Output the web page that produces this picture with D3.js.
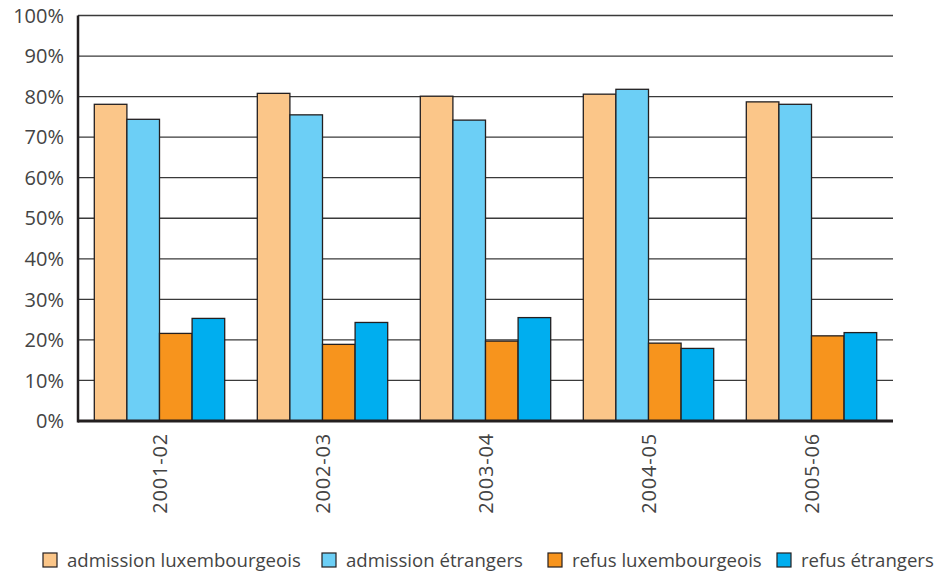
<!DOCTYPE html>
<html><head><meta charset="utf-8">
<script src="https://cdn.jsdelivr.net/npm/d3@7"></script>
<style>body{margin:0;background:#fff;} text{font-family:"Open Sans",Lato,sans-serif;font-weight:400;}</style>
</head><body>
<svg id="c" width="938" height="573"></svg>
<script>
const categories = ["2001-02","2002-03","2003-04","2004-05","2005-06"];
const seriesNames = ["admission luxembourgeois","admission étrangers","refus luxembourgeois","refus étrangers"];
const admissionLux = [78.1, 80.8, 80.1, 80.6, 78.7];
const admissionEtr = [74.4, 75.5, 74.2, 81.8, 78.1];
const refusLux = [21.6, 18.9, 19.7, 19.2, 21.0];
const refusEtr = [25.3, 24.3, 25.5, 17.9, 21.8];
const yTicks = [0,10,20,30,40,50,60,70,80,90,100];
const colors = ["#FBC689","#6CCFF6","#F7941D","#00AEEF"];

const series = [admissionLux, admissionEtr, refusLux, refusEtr];
const svg = d3.select("#c");
const m = {l:78, r:45, t:15.5, b:152};
const W = 938 - m.l - m.r, H = 573 - m.t - m.b;
const g = svg.append("g").attr("transform",`translate(${m.l},${m.t})`);

const x = d3.scaleBand().domain(categories).range([0,W]).paddingInner(0.2).paddingOuter(0.1);
const x1 = d3.scaleBand().domain(d3.range(series.length)).range([0,x.bandwidth()]);
const y = d3.scaleLinear().domain([0,100]).range([H,0]);

// gridlines
g.append("g").selectAll("line").data(yTicks.filter(d=>d>0)).join("line")
  .attr("x1",0).attr("x2",W).attr("y1",d=>y(d)).attr("y2",d=>y(d))
  .attr("stroke","#3a3a3a").attr("stroke-width",1.3);

// y labels
g.append("g").selectAll("text").data(yTicks).join("text")
  .attr("x",-14).attr("y",d=>y(d)).attr("dy","0.36em").attr("text-anchor","end")
  .attr("font-size",20).attr("fill","#444").text(d=>d+"%");

// bars
const grp = g.append("g").selectAll("g").data(categories).join("g")
  .attr("transform",d=>`translate(${x(d)},0)`);
grp.selectAll("rect").data((c,i)=>series.map((s,k)=>({k, v:s[i]}))).join("rect")
  .attr("x",d=>x1(d.k)).attr("width",x1.bandwidth())
  .attr("y",d=>y(d.v)).attr("height",d=>H-y(d.v))
  .attr("fill",d=>colors[d.k]).attr("stroke","#231F20").attr("stroke-width",1.3);

// axes lines
g.append("line").attr("x1",0).attr("x2",0).attr("y1",0).attr("y2",H+1.5).attr("stroke","#231F20").attr("stroke-width",2.5);
g.append("line").attr("x1",0).attr("x2",W).attr("y1",H).attr("y2",H).attr("stroke","#231F20").attr("stroke-width",3);

// x labels
g.append("g").selectAll("text").data(categories).join("text")
  .attr("transform",d=>`translate(${x(d)+x.bandwidth()/2},${H+12}) rotate(-90)`)
  .attr("text-anchor","end").attr("dy","0.36em").attr("letter-spacing",0.8)
  .attr("font-size",20).attr("fill","#444").text(d=>d);

// legend
const legX = [43, 322, 548, 777];
const leg = svg.append("g").selectAll("g").data(seriesNames).join("g")
  .attr("transform",(d,i)=>`translate(${legX[i]},553)`);
leg.append("rect").attr("width",14).attr("height",14).attr("fill",(d,i)=>colors[i])
  .attr("stroke","#231F20").attr("stroke-width",1.2);
leg.append("text").attr("x",24).attr("y",7).attr("dy","0.36em").attr("font-size",18.6)
  .attr("fill","#444").text(d=>d);
</script>
</body></html>
